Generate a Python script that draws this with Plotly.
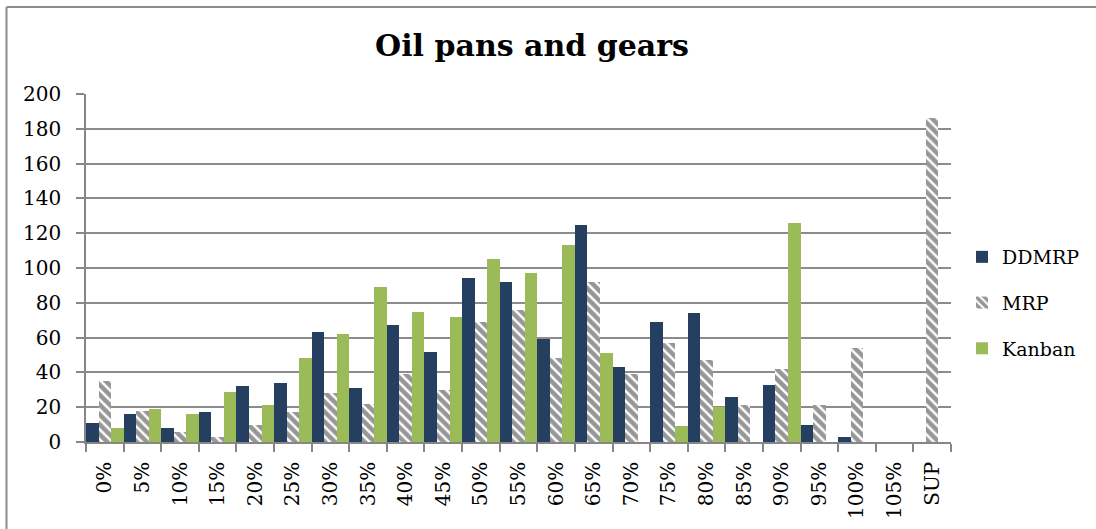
import plotly.graph_objects as go

categories = ["0%", "5%", "10%", "15%", "20%", "25%", "30%", "35%", "40%", "45%",
              "50%", "55%", "60%", "65%", "70%", "75%", "80%", "85%", "90%", "95%",
              "100%", "105%", "SUP"]
ddmrp = [11, 16, 8, 17, 32, 34, 63, 31, 67, 52, 94, 92, 59, 125, 43, 69, 74, 26, 33, 10, 3, 0, 0]
mrp = [35, 18, 6, 3, 10, 17, 28, 22, 39, 30, 69, 76, 48, 92, 39, 57, 47, 21, 42, 21, 54, 0, 186]
kanban = [8, 19, 16, 29, 21, 48, 62, 89, 75, 72, 105, 97, 113, 51, 0, 9, 20, 0, 126, 0, 0, 0, 0]
y_ticks = [0, 20, 40, 60, 80, 100, 120, 140, 160, 180, 200]

W, H = 1096, 529
L, R, T, B = 86, 951, 94, 442
FONT = "DejaVu Serif"

def px(x):
    return (x - L) / (R - L)

def py(y):
    return (B - y) / (B - T)

fig = go.Figure()
fig.add_trace(go.Bar(x=categories, y=ddmrp, name="DDMRP", legendgroup="a",
                     marker=dict(color="#243F60", line=dict(width=0))))
fig.add_trace(go.Bar(x=categories, y=mrp, name="MRP", legendgroup="b",
                     marker=dict(color="white", line=dict(width=0),
                                 pattern=dict(shape="\\", fgcolor="#2e2e2e", bgcolor="white",
                                              size=7, solidity=0.65))))
fig.add_trace(go.Bar(x=categories, y=kanban, name="Kanban", legendgroup="c",
                     marker=dict(color="#9BBB59", line=dict(width=0))))

fig.update_layout(
    width=W, height=H,
    margin=dict(l=L, r=W - R, t=T, b=H - B, pad=0, autoexpand=False),
    paper_bgcolor="white", plot_bgcolor="white",
    barmode="group", bargap=0, bargroupgap=0,
    font=dict(family=FONT, size=20, color="black"),
    title=dict(text="<b>Oil pans and gears</b>", font=dict(family=FONT, size=30, color="black"),
               x=px(532), xref="paper", xanchor="center",
               y=1 - 45 / H, yref="container", yanchor="middle"),
    legend=dict(x=px(962), xanchor="left", y=py(303), yanchor="middle",
                font=dict(family=FONT, size=19), tracegroupgap=18,
                bgcolor="rgba(0,0,0,0)", borderwidth=0, itemwidth=30),
    xaxis=dict(type="category", tickangle=-90, tickson="boundaries", ticks="outside",
               ticklen=8, tickcolor="#868686", tickwidth=1.5,
               showline=True, linecolor="#868686", linewidth=1.5,
               showgrid=False, ticklabelstandoff=10, automargin=False,
               tickfont=dict(family=FONT, size=20)),
    yaxis=dict(range=[0, 200], tickvals=y_ticks, ticks="outside", ticklen=8,
               tickcolor="#868686", tickwidth=1.5,
               showline=True, linecolor="#868686", linewidth=1.5,
               showgrid=True, gridcolor="#8c8c8c", gridwidth=1.5,
               zeroline=False, ticklabelstandoff=11, automargin=False,
               tickfont=dict(family=FONT, size=20)),
)

# outer chart frame (left and top edges visible)
fig.add_shape(type="line", xref="paper", yref="paper",
              x0=px(6.5), x1=px(6.5), y0=py(7), y1=py(540),
              line=dict(color="#8c8c8c", width=2))
fig.add_shape(type="line", xref="paper", yref="paper",
              x0=px(6.5), x1=px(1110), y0=py(7), y1=py(7),
              line=dict(color="#8c8c8c", width=2))

fig.write_html("out.html", config={"displayModeBar": False},
               post_script="document.body.style.margin='0';document.body.style.overflow='hidden';")
